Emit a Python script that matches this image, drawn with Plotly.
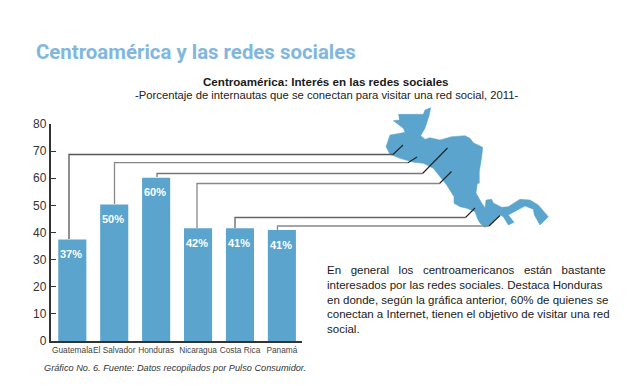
import plotly.graph_objects as go

countries = ["Guatemala", "El Salvador", "Honduras", "Nicaragua", "Costa Rica", "Panamá"]
values = [37.4, 50.3, 60.2, 41.6, 41.6, 40.9]
value_labels = ["37%", "50%", "60%", "42%", "41%", "41%"]
y_ticks = [0, 10, 20, 30, 40, 50, 60, 70, 80]

# Map silhouette (page pixels)
map_x = [398.3, 423.3, 425, 430.7, 429.3, 426.7, 425, 420.7, 425, 430, 440, 451.7, 465, 470, 473.3, 482.7, 481.7, 479.3,
         479.3, 477.3, 476, 481.7, 485, 486, 491.7, 493.3, 501.7, 508.3, 520, 530, 538.3, 548.3, 540, 534.3, 533.3, 525,
         515, 508.3, 514, 508.3, 503.3, 500, 490, 485, 480, 477.3, 475, 466.7, 460, 454, 454, 446.7, 440, 433.3, 423.3,
         413.3, 400, 390, 386, 390, 400, 405, 403.3, 393.3, 399.3]
map_y = [114.3, 114.3, 110, 107.7, 115, 123.3, 128.3, 135.7, 139.3, 137.7, 140, 136.7, 135.7, 138.3, 142.7, 147.3, 156.7, 171.7,
         183.3, 183.5, 193, 203, 208, 200, 199.3, 203, 207.3, 206.7, 199.3, 200, 205, 216.7, 225, 215, 209.3, 206,
         211.7, 215, 222.3, 225, 216.7, 215, 225, 227.3, 223.3, 218.3, 211.7, 208.3, 206.7, 203.3, 196.7, 185, 176.7, 168.3, 163.3,
         162.3, 158.3, 154.3, 146.7, 135, 133.3, 132.3, 128.3, 120.7, 120]

# Leader lines: one list per country (page pixels)
leader_x = [[69, 69, 393, 403], [114.5, 114.5, 408, 417], [157, 157, 422.5, 447.5],
            [197, 197, 439.5, 451.5], [235, 235, 465.5, 475], [277.5, 277.5, 489, 500]]
leader_y = [[239, 154.5, 154.5, 145], [204, 162.7, 162.7, 157], [177, 173.5, 173.5, 148],
            [228, 183.5, 183.5, 171.5], [228, 217.5, 217.5, 208], [230, 226, 226, 215.5]]
leader_colors = ["#555555", "#888888", "#777777", "#888888", "#666666", "#888888"]

body_lines = ["En general los centroamericanos están bastante",
              "interesados por las redes sociales. Destaca Honduras",
              "en donde, según la gráfica anterior, 60% de quienes se",
              "conectan a Internet, tienen el objetivo de visitar una red",
              "social."]
body_extra_spaces = [2, 0, 0, 0, 0]

W, H = 640, 386
PLOT_L, PLOT_R, PLOT_T, PLOT_B = 50.5, 302, 124, 341
BLUE = "#5BA4CD"

fig = go.Figure()
fig.add_trace(go.Bar(
    x=countries, y=values, width=0.67, marker=dict(color=BLUE, line_width=0),
    hoverinfo="skip", showlegend=False))
for c, v, t in zip(countries, values, value_labels):
    fig.add_annotation(x=c, y=v, text=t, showarrow=False, yshift=-14.5, xshift=-1, yanchor="middle",
                       font=dict(family="Liberation Sans", size=11, color="white", weight="bold"))

# Second pair of axes spanning the page in pixels, for the map and the leader lines
fig.add_trace(go.Scatter(x=map_x, y=map_y, xaxis="x2", yaxis="y2", mode="lines", fill="toself",
                         fillcolor=BLUE, line=dict(color=BLUE, width=0.5), showlegend=False, hoverinfo="skip"))
for xs, ys, c in zip(leader_x, leader_y, leader_colors):
    fig.add_trace(go.Scatter(x=xs[:3], y=ys[:3], xaxis="x2", yaxis="y2", mode="lines",
                             line=dict(color=c, width=1.3), showlegend=False, hoverinfo="skip"))
    fig.add_trace(go.Scatter(x=xs[2:], y=ys[2:], xaxis="x2", yaxis="y2", mode="lines",
                             line=dict(color="#222222", width=1.1), showlegend=False, hoverinfo="skip"))

def page_text(x, y, text, size, color="#222222", anchor="left", bold=False, italic=False, family="Liberation Sans"):
    fig.add_annotation(x=x, y=y, xref="x2", yref="y2", text=text, showarrow=False, xanchor=anchor, yanchor="middle",
                       font=dict(family=family, size=size, color=color, weight="bold" if bold else "normal",
                                 style="italic" if italic else "normal"))

page_text(34, 52, "Centroamérica y las redes sociales", 20.4, "#82B7DD", bold=True, family="Roboto")
page_text(326, 81, "Centroamérica: Interés en las redes sociales", 11.6, "#1a1a1a", "center", bold=True)
page_text(326, 95, "-Porcentaje de internautas que se conectan para visitar una red social, 2011-", 11.25, "#222222", "center")
page_text(42, 368, "Gráfico No. 6. Fuente: Datos recopilados por Pulso Consumidor.", 9.2, "#333333", italic=True)
for i, (line, extra) in enumerate(zip(body_lines, body_extra_spaces)):
    page_text(325, 270 + i * 14.8, line.replace(" ", "\u00a0" * (1 + extra)), 11.5, "#1a1a1a")

fig.update_layout(
    width=W, height=H, margin=dict(l=0, r=0, t=0, b=0), paper_bgcolor="white", plot_bgcolor="rgba(0,0,0,0)",
    xaxis=dict(domain=[PLOT_L / W, PLOT_R / W], type="category", range=[-0.52, 5.48], showgrid=False, showline=True,
               linecolor="#333333", linewidth=1.5, ticks="", automargin=False,
               tickfont=dict(family="Liberation Sans", size=8.3, color="#444444"), tickangle=0),
    yaxis=dict(domain=[1 - PLOT_B / H, 1 - PLOT_T / H], range=[0, 80], tickvals=y_ticks, showgrid=False, zeroline=False,
               showline=True, linecolor="#333333", linewidth=1.5, ticks="inside", ticklen=6, tickcolor="#333333", automargin=False,
               tickfont=dict(family="Liberation Sans", size=12, color="#333333")),
    xaxis2=dict(domain=[0, 1], range=[0, W], visible=False, anchor="y2", fixedrange=True, automargin=False),
    yaxis2=dict(domain=[0, 1], range=[H, 0], visible=False, anchor="x2", fixedrange=True, automargin=False),
)
fig.write_html("out.html", config={"displayModeBar": False},
               post_script="document.body.style.margin='0';")
